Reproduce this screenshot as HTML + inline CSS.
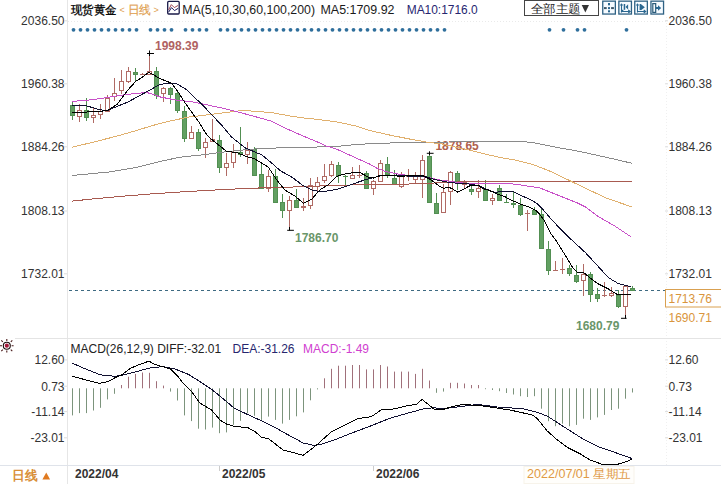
<!DOCTYPE html>
<html><head><meta charset="utf-8"><style>
html,body{margin:0;padding:0;background:#fff;}
body{width:721px;height:484px;overflow:hidden;position:relative;font-family:"Liberation Sans",sans-serif;}
svg{position:absolute;left:0;top:0;}
text{font-family:"Liberation Sans",sans-serif;}
</style></head><body>
<svg width="721" height="484" viewBox="0 0 721 484">
<rect x="0" y="0" width="721" height="484" fill="#fff"/>

<line x1="67.5" y1="0" x2="67.5" y2="484" stroke="#e6e6e6" stroke-width="1"/>
<line x1="666.5" y1="17" x2="666.5" y2="466" stroke="#f0f0f0" stroke-width="1" stroke-dasharray="1,2"/>
<line x1="15" y1="338.5" x2="721" y2="338.5" stroke="#e4e4e4" stroke-width="1"/>
<line x1="0" y1="465.5" x2="721" y2="465.5" stroke="#dfe3ea" stroke-width="1"/>
<line x1="68" y1="21.5" x2="666" y2="21.5" stroke="#eaeaea" stroke-width="1" stroke-dasharray="1,2"/>
<circle cx="73.5" cy="29.8" r="1.9" fill="#2f6f9c"/>
<circle cx="80.5" cy="29.8" r="1.9" fill="#2f6f9c"/>
<circle cx="87.5" cy="29.8" r="1.9" fill="#2f6f9c"/>
<circle cx="94.5" cy="29.8" r="1.9" fill="#2f6f9c"/>
<circle cx="101.5" cy="29.8" r="1.9" fill="#2f6f9c"/>
<circle cx="108.5" cy="29.8" r="1.9" fill="#2f6f9c"/>
<circle cx="115.5" cy="29.8" r="1.9" fill="#2f6f9c"/>
<circle cx="122.5" cy="29.8" r="1.9" fill="#2f6f9c"/>
<circle cx="129.5" cy="29.8" r="1.9" fill="#2f6f9c"/>
<circle cx="136.5" cy="29.8" r="1.9" fill="#2f6f9c"/>
<circle cx="150.5" cy="29.8" r="1.9" fill="#2f6f9c"/>
<circle cx="157.5" cy="29.8" r="1.9" fill="#2f6f9c"/>
<circle cx="164.5" cy="29.8" r="1.9" fill="#2f6f9c"/>
<circle cx="171.5" cy="29.8" r="1.9" fill="#2f6f9c"/>
<circle cx="185.5" cy="29.8" r="1.9" fill="#2f6f9c"/>
<circle cx="192.5" cy="29.8" r="1.9" fill="#2f6f9c"/>
<circle cx="199.5" cy="29.8" r="1.9" fill="#2f6f9c"/>
<circle cx="206.5" cy="29.8" r="1.9" fill="#2f6f9c"/>
<circle cx="220.5" cy="29.8" r="1.9" fill="#2f6f9c"/>
<circle cx="227.5" cy="29.8" r="1.9" fill="#2f6f9c"/>
<circle cx="234.5" cy="29.8" r="1.9" fill="#2f6f9c"/>
<circle cx="241.5" cy="29.8" r="1.9" fill="#2f6f9c"/>
<circle cx="248.5" cy="29.8" r="1.9" fill="#2f6f9c"/>
<circle cx="255.5" cy="29.8" r="1.9" fill="#2f6f9c"/>
<circle cx="262.5" cy="29.8" r="1.9" fill="#2f6f9c"/>
<circle cx="269.5" cy="29.8" r="1.9" fill="#2f6f9c"/>
<circle cx="276.5" cy="29.8" r="1.9" fill="#2f6f9c"/>
<circle cx="283.5" cy="29.8" r="1.9" fill="#2f6f9c"/>
<circle cx="290.5" cy="29.8" r="1.9" fill="#2f6f9c"/>
<circle cx="297.5" cy="29.8" r="1.9" fill="#2f6f9c"/>
<circle cx="304.5" cy="29.8" r="1.9" fill="#2f6f9c"/>
<circle cx="311.5" cy="29.8" r="1.9" fill="#2f6f9c"/>
<circle cx="318.5" cy="29.8" r="1.9" fill="#2f6f9c"/>
<circle cx="325.5" cy="29.8" r="1.9" fill="#2f6f9c"/>
<circle cx="332.5" cy="29.8" r="1.9" fill="#2f6f9c"/>
<circle cx="339.5" cy="29.8" r="1.9" fill="#2f6f9c"/>
<circle cx="346.5" cy="29.8" r="1.9" fill="#2f6f9c"/>
<circle cx="353.5" cy="29.8" r="1.9" fill="#2f6f9c"/>
<circle cx="360.5" cy="29.8" r="1.9" fill="#2f6f9c"/>
<circle cx="367.5" cy="29.8" r="1.9" fill="#2f6f9c"/>
<circle cx="374.5" cy="29.8" r="1.9" fill="#2f6f9c"/>
<circle cx="381.5" cy="29.8" r="1.9" fill="#2f6f9c"/>
<circle cx="388.5" cy="29.8" r="1.9" fill="#2f6f9c"/>
<circle cx="395.5" cy="29.8" r="1.9" fill="#2f6f9c"/>
<circle cx="402.5" cy="29.8" r="1.9" fill="#2f6f9c"/>
<circle cx="409.5" cy="29.8" r="1.9" fill="#2f6f9c"/>
<circle cx="416.5" cy="29.8" r="1.9" fill="#2f6f9c"/>
<circle cx="423.5" cy="29.8" r="1.9" fill="#2f6f9c"/>
<circle cx="430.5" cy="29.8" r="1.9" fill="#2f6f9c"/>
<circle cx="437.5" cy="29.8" r="1.9" fill="#2f6f9c"/>
<circle cx="444.5" cy="29.8" r="1.9" fill="#2f6f9c"/>
<circle cx="549.5" cy="29.8" r="1.9" fill="#2f6f9c"/>
<circle cx="563.5" cy="29.8" r="1.9" fill="#2f6f9c"/>
<circle cx="577.5" cy="29.8" r="1.9" fill="#2f6f9c"/>
<circle cx="584.5" cy="29.8" r="1.9" fill="#2f6f9c"/>
<circle cx="626.5" cy="29.8" r="1.9" fill="#2f6f9c"/>
<line x1="69" y1="290.5" x2="665" y2="290.5" stroke="#3e6a82" stroke-width="1" stroke-dasharray="3,3"/>
<g shape-rendering="crispEdges">
<line x1="72.5" y1="102" x2="72.5" y2="120" stroke="#528f52" stroke-width="1"/>
<rect x="70.5" y="105.5" width="4" height="10" fill="#62a062" stroke="#528f52" stroke-width="1"/>
<line x1="79.5" y1="104" x2="79.5" y2="110" stroke="#b06a64" stroke-width="1"/>
<line x1="79.5" y1="116" x2="79.5" y2="122" stroke="#b06a64" stroke-width="1"/>
<rect x="77.5" y="110.5" width="4" height="6" fill="#fff" stroke="#b06a64" stroke-width="1"/>
<line x1="86.5" y1="98" x2="86.5" y2="121" stroke="#528f52" stroke-width="1"/>
<rect x="84.5" y="110.5" width="4" height="7" fill="#62a062" stroke="#528f52" stroke-width="1"/>
<line x1="93.5" y1="108" x2="93.5" y2="115" stroke="#b06a64" stroke-width="1"/>
<line x1="93.5" y1="117" x2="93.5" y2="123" stroke="#b06a64" stroke-width="1"/>
<rect x="91.5" y="115.5" width="4" height="2" fill="#fff" stroke="#b06a64" stroke-width="1"/>
<line x1="100.5" y1="104" x2="100.5" y2="111" stroke="#b06a64" stroke-width="1"/>
<line x1="100.5" y1="114" x2="100.5" y2="119" stroke="#b06a64" stroke-width="1"/>
<rect x="98.5" y="111.5" width="4" height="3" fill="#fff" stroke="#b06a64" stroke-width="1"/>
<line x1="107.5" y1="95" x2="107.5" y2="98" stroke="#b06a64" stroke-width="1"/>
<line x1="107.5" y1="111" x2="107.5" y2="112" stroke="#b06a64" stroke-width="1"/>
<rect x="105.5" y="98.5" width="4" height="13" fill="#fff" stroke="#b06a64" stroke-width="1"/>
<line x1="114.5" y1="78" x2="114.5" y2="93" stroke="#b06a64" stroke-width="1"/>
<line x1="114.5" y1="96" x2="114.5" y2="101" stroke="#b06a64" stroke-width="1"/>
<rect x="112.5" y="93.5" width="4" height="3" fill="#fff" stroke="#b06a64" stroke-width="1"/>
<line x1="121.5" y1="70" x2="121.5" y2="81" stroke="#b06a64" stroke-width="1"/>
<line x1="121.5" y1="90" x2="121.5" y2="94" stroke="#b06a64" stroke-width="1"/>
<rect x="119.5" y="81.5" width="4" height="9" fill="#fff" stroke="#b06a64" stroke-width="1"/>
<line x1="128.5" y1="67" x2="128.5" y2="71" stroke="#b06a64" stroke-width="1"/>
<line x1="128.5" y1="81" x2="128.5" y2="83" stroke="#b06a64" stroke-width="1"/>
<rect x="126.5" y="71.5" width="4" height="10" fill="#fff" stroke="#b06a64" stroke-width="1"/>
<line x1="135.5" y1="68" x2="135.5" y2="81" stroke="#528f52" stroke-width="1"/>
<rect x="133.5" y="72.5" width="4" height="2" fill="#62a062" stroke="#528f52" stroke-width="1"/>
<line x1="142.5" y1="73" x2="142.5" y2="75" stroke="#b06a64" stroke-width="1"/>
<line x1="140" y1="74.5" x2="145" y2="74.5" stroke="#b06a64" stroke-width="1"/>
<line x1="149.5" y1="52" x2="149.5" y2="71" stroke="#b06a64" stroke-width="1"/>
<line x1="149.5" y1="74" x2="149.5" y2="74" stroke="#b06a64" stroke-width="1"/>
<rect x="147.5" y="71.5" width="4" height="3" fill="#fff" stroke="#b06a64" stroke-width="1"/>
<line x1="156.5" y1="67" x2="156.5" y2="99" stroke="#528f52" stroke-width="1"/>
<rect x="154.5" y="71.5" width="4" height="24" fill="#62a062" stroke="#528f52" stroke-width="1"/>
<line x1="163.5" y1="87" x2="163.5" y2="88" stroke="#b06a64" stroke-width="1"/>
<line x1="163.5" y1="93" x2="163.5" y2="102" stroke="#b06a64" stroke-width="1"/>
<rect x="161.5" y="88.5" width="4" height="5" fill="#fff" stroke="#b06a64" stroke-width="1"/>
<line x1="170.5" y1="87" x2="170.5" y2="104" stroke="#528f52" stroke-width="1"/>
<rect x="168.5" y="88.5" width="4" height="6" fill="#62a062" stroke="#528f52" stroke-width="1"/>
<line x1="177.5" y1="90" x2="177.5" y2="113" stroke="#528f52" stroke-width="1"/>
<rect x="175.5" y="93.5" width="4" height="17" fill="#62a062" stroke="#528f52" stroke-width="1"/>
<line x1="184.5" y1="106" x2="184.5" y2="142" stroke="#528f52" stroke-width="1"/>
<rect x="182.5" y="111.5" width="4" height="27" fill="#62a062" stroke="#528f52" stroke-width="1"/>
<line x1="191.5" y1="126" x2="191.5" y2="132" stroke="#b06a64" stroke-width="1"/>
<line x1="191.5" y1="138" x2="191.5" y2="138" stroke="#b06a64" stroke-width="1"/>
<rect x="189.5" y="132.5" width="4" height="6" fill="#fff" stroke="#b06a64" stroke-width="1"/>
<line x1="198.5" y1="129" x2="198.5" y2="151" stroke="#528f52" stroke-width="1"/>
<rect x="196.5" y="132.5" width="4" height="16" fill="#62a062" stroke="#528f52" stroke-width="1"/>
<line x1="205.5" y1="138" x2="205.5" y2="142" stroke="#b06a64" stroke-width="1"/>
<line x1="205.5" y1="147" x2="205.5" y2="158" stroke="#b06a64" stroke-width="1"/>
<rect x="203.5" y="142.5" width="4" height="5" fill="#fff" stroke="#b06a64" stroke-width="1"/>
<line x1="212.5" y1="119" x2="212.5" y2="139" stroke="#b06a64" stroke-width="1"/>
<line x1="212.5" y1="141" x2="212.5" y2="142" stroke="#b06a64" stroke-width="1"/>
<rect x="210.5" y="139.5" width="4" height="2" fill="#fff" stroke="#b06a64" stroke-width="1"/>
<line x1="219.5" y1="135" x2="219.5" y2="173" stroke="#528f52" stroke-width="1"/>
<rect x="217.5" y="140.5" width="4" height="27" fill="#62a062" stroke="#528f52" stroke-width="1"/>
<line x1="226.5" y1="153" x2="226.5" y2="163" stroke="#b06a64" stroke-width="1"/>
<line x1="226.5" y1="167" x2="226.5" y2="176" stroke="#b06a64" stroke-width="1"/>
<rect x="224.5" y="163.5" width="4" height="4" fill="#fff" stroke="#b06a64" stroke-width="1"/>
<line x1="233.5" y1="144" x2="233.5" y2="152" stroke="#b06a64" stroke-width="1"/>
<line x1="233.5" y1="162" x2="233.5" y2="168" stroke="#b06a64" stroke-width="1"/>
<rect x="231.5" y="152.5" width="4" height="10" fill="#fff" stroke="#b06a64" stroke-width="1"/>
<line x1="240.5" y1="127" x2="240.5" y2="157" stroke="#528f52" stroke-width="1"/>
<rect x="238.5" y="152.5" width="4" height="2" fill="#62a062" stroke="#528f52" stroke-width="1"/>
<line x1="247.5" y1="142" x2="247.5" y2="150" stroke="#b06a64" stroke-width="1"/>
<line x1="247.5" y1="154" x2="247.5" y2="164" stroke="#b06a64" stroke-width="1"/>
<rect x="245.5" y="150.5" width="4" height="4" fill="#fff" stroke="#b06a64" stroke-width="1"/>
<line x1="254.5" y1="147" x2="254.5" y2="176" stroke="#528f52" stroke-width="1"/>
<rect x="252.5" y="149.5" width="4" height="26" fill="#62a062" stroke="#528f52" stroke-width="1"/>
<line x1="261.5" y1="164" x2="261.5" y2="188" stroke="#528f52" stroke-width="1"/>
<rect x="259.5" y="174.5" width="4" height="14" fill="#62a062" stroke="#528f52" stroke-width="1"/>
<line x1="268.5" y1="170" x2="268.5" y2="176" stroke="#b06a64" stroke-width="1"/>
<line x1="268.5" y1="188" x2="268.5" y2="192" stroke="#b06a64" stroke-width="1"/>
<rect x="266.5" y="176.5" width="4" height="12" fill="#fff" stroke="#b06a64" stroke-width="1"/>
<line x1="275.5" y1="169" x2="275.5" y2="202" stroke="#528f52" stroke-width="1"/>
<rect x="273.5" y="176.5" width="4" height="26" fill="#62a062" stroke="#528f52" stroke-width="1"/>
<line x1="282.5" y1="194" x2="282.5" y2="218" stroke="#528f52" stroke-width="1"/>
<rect x="280.5" y="202.5" width="4" height="8" fill="#62a062" stroke="#528f52" stroke-width="1"/>
<line x1="289.5" y1="196" x2="289.5" y2="200" stroke="#b06a64" stroke-width="1"/>
<line x1="289.5" y1="210" x2="289.5" y2="230" stroke="#b06a64" stroke-width="1"/>
<rect x="287.5" y="200.5" width="4" height="10" fill="#fff" stroke="#b06a64" stroke-width="1"/>
<line x1="296.5" y1="189" x2="296.5" y2="208" stroke="#528f52" stroke-width="1"/>
<rect x="294.5" y="200.5" width="4" height="7" fill="#62a062" stroke="#528f52" stroke-width="1"/>
<line x1="303.5" y1="198" x2="303.5" y2="206" stroke="#b06a64" stroke-width="1"/>
<line x1="303.5" y1="207" x2="303.5" y2="211" stroke="#b06a64" stroke-width="1"/>
<rect x="301.5" y="206.5" width="4" height="1" fill="#fff" stroke="#b06a64" stroke-width="1"/>
<line x1="310.5" y1="178" x2="310.5" y2="185" stroke="#b06a64" stroke-width="1"/>
<line x1="310.5" y1="205" x2="310.5" y2="209" stroke="#b06a64" stroke-width="1"/>
<rect x="308.5" y="185.5" width="4" height="20" fill="#fff" stroke="#b06a64" stroke-width="1"/>
<line x1="317.5" y1="177" x2="317.5" y2="182" stroke="#b06a64" stroke-width="1"/>
<line x1="317.5" y1="186" x2="317.5" y2="192" stroke="#b06a64" stroke-width="1"/>
<rect x="315.5" y="182.5" width="4" height="4" fill="#fff" stroke="#b06a64" stroke-width="1"/>
<line x1="324.5" y1="164" x2="324.5" y2="176" stroke="#b06a64" stroke-width="1"/>
<line x1="324.5" y1="180" x2="324.5" y2="183" stroke="#b06a64" stroke-width="1"/>
<rect x="322.5" y="176.5" width="4" height="4" fill="#fff" stroke="#b06a64" stroke-width="1"/>
<line x1="331.5" y1="161" x2="331.5" y2="164" stroke="#b06a64" stroke-width="1"/>
<line x1="331.5" y1="175" x2="331.5" y2="177" stroke="#b06a64" stroke-width="1"/>
<rect x="329.5" y="164.5" width="4" height="11" fill="#fff" stroke="#b06a64" stroke-width="1"/>
<line x1="338.5" y1="162" x2="338.5" y2="183" stroke="#528f52" stroke-width="1"/>
<rect x="336.5" y="165.5" width="4" height="10" fill="#62a062" stroke="#528f52" stroke-width="1"/>
<line x1="345.5" y1="175" x2="345.5" y2="185" stroke="#528f52" stroke-width="1"/>
<line x1="343" y1="176.5" x2="348" y2="176.5" stroke="#528f52" stroke-width="1"/>
<line x1="352.5" y1="167" x2="352.5" y2="175" stroke="#b06a64" stroke-width="1"/>
<line x1="352.5" y1="178" x2="352.5" y2="178" stroke="#b06a64" stroke-width="1"/>
<rect x="350.5" y="175.5" width="4" height="3" fill="#fff" stroke="#b06a64" stroke-width="1"/>
<line x1="359.5" y1="165" x2="359.5" y2="178" stroke="#b06a64" stroke-width="1"/>
<line x1="357" y1="175.5" x2="362" y2="175.5" stroke="#b06a64" stroke-width="1"/>
<line x1="366.5" y1="171" x2="366.5" y2="189" stroke="#528f52" stroke-width="1"/>
<rect x="364.5" y="173.5" width="4" height="15" fill="#62a062" stroke="#528f52" stroke-width="1"/>
<line x1="373.5" y1="180" x2="373.5" y2="181" stroke="#b06a64" stroke-width="1"/>
<line x1="373.5" y1="188" x2="373.5" y2="195" stroke="#b06a64" stroke-width="1"/>
<rect x="371.5" y="181.5" width="4" height="7" fill="#fff" stroke="#b06a64" stroke-width="1"/>
<line x1="380.5" y1="160" x2="380.5" y2="163" stroke="#b06a64" stroke-width="1"/>
<line x1="380.5" y1="181" x2="380.5" y2="182" stroke="#b06a64" stroke-width="1"/>
<rect x="378.5" y="163.5" width="4" height="18" fill="#fff" stroke="#b06a64" stroke-width="1"/>
<line x1="387.5" y1="157" x2="387.5" y2="178" stroke="#528f52" stroke-width="1"/>
<rect x="385.5" y="164.5" width="4" height="10" fill="#62a062" stroke="#528f52" stroke-width="1"/>
<line x1="394.5" y1="170" x2="394.5" y2="185" stroke="#528f52" stroke-width="1"/>
<rect x="392.5" y="178.5" width="4" height="6" fill="#62a062" stroke="#528f52" stroke-width="1"/>
<line x1="401.5" y1="172" x2="401.5" y2="175" stroke="#b06a64" stroke-width="1"/>
<line x1="401.5" y1="186" x2="401.5" y2="188" stroke="#b06a64" stroke-width="1"/>
<rect x="399.5" y="175.5" width="4" height="11" fill="#fff" stroke="#b06a64" stroke-width="1"/>
<line x1="408.5" y1="169" x2="408.5" y2="175" stroke="#b06a64" stroke-width="1"/>
<line x1="408.5" y1="176" x2="408.5" y2="181" stroke="#b06a64" stroke-width="1"/>
<rect x="406.5" y="175.5" width="4" height="1" fill="#fff" stroke="#b06a64" stroke-width="1"/>
<line x1="415.5" y1="172" x2="415.5" y2="175" stroke="#b06a64" stroke-width="1"/>
<line x1="415.5" y1="179" x2="415.5" y2="184" stroke="#b06a64" stroke-width="1"/>
<rect x="413.5" y="175.5" width="4" height="4" fill="#fff" stroke="#b06a64" stroke-width="1"/>
<line x1="422.5" y1="155" x2="422.5" y2="160" stroke="#b06a64" stroke-width="1"/>
<line x1="422.5" y1="179" x2="422.5" y2="198" stroke="#b06a64" stroke-width="1"/>
<rect x="420.5" y="160.5" width="4" height="19" fill="#fff" stroke="#b06a64" stroke-width="1"/>
<line x1="429.5" y1="153" x2="429.5" y2="203" stroke="#528f52" stroke-width="1"/>
<rect x="427.5" y="156.5" width="4" height="46" fill="#62a062" stroke="#528f52" stroke-width="1"/>
<line x1="436.5" y1="193" x2="436.5" y2="213" stroke="#528f52" stroke-width="1"/>
<rect x="434.5" y="203.5" width="4" height="10" fill="#62a062" stroke="#528f52" stroke-width="1"/>
<line x1="443.5" y1="184" x2="443.5" y2="192" stroke="#b06a64" stroke-width="1"/>
<line x1="443.5" y1="212" x2="443.5" y2="213" stroke="#b06a64" stroke-width="1"/>
<rect x="441.5" y="192.5" width="4" height="20" fill="#fff" stroke="#b06a64" stroke-width="1"/>
<line x1="450.5" y1="171" x2="450.5" y2="172" stroke="#b06a64" stroke-width="1"/>
<line x1="450.5" y1="191" x2="450.5" y2="205" stroke="#b06a64" stroke-width="1"/>
<rect x="448.5" y="172.5" width="4" height="19" fill="#fff" stroke="#b06a64" stroke-width="1"/>
<line x1="457.5" y1="171" x2="457.5" y2="190" stroke="#528f52" stroke-width="1"/>
<rect x="455.5" y="173.5" width="4" height="8" fill="#62a062" stroke="#528f52" stroke-width="1"/>
<line x1="464.5" y1="180" x2="464.5" y2="182" stroke="#b06a64" stroke-width="1"/>
<line x1="464.5" y1="184" x2="464.5" y2="189" stroke="#b06a64" stroke-width="1"/>
<rect x="462.5" y="182.5" width="4" height="2" fill="#fff" stroke="#b06a64" stroke-width="1"/>
<line x1="471.5" y1="186" x2="471.5" y2="195" stroke="#528f52" stroke-width="1"/>
<rect x="469.5" y="189.5" width="4" height="2" fill="#62a062" stroke="#528f52" stroke-width="1"/>
<line x1="478.5" y1="180" x2="478.5" y2="188" stroke="#b06a64" stroke-width="1"/>
<line x1="478.5" y1="191" x2="478.5" y2="198" stroke="#b06a64" stroke-width="1"/>
<rect x="476.5" y="188.5" width="4" height="3" fill="#fff" stroke="#b06a64" stroke-width="1"/>
<line x1="485.5" y1="180" x2="485.5" y2="201" stroke="#528f52" stroke-width="1"/>
<rect x="483.5" y="189.5" width="4" height="11" fill="#62a062" stroke="#528f52" stroke-width="1"/>
<line x1="492.5" y1="194" x2="492.5" y2="198" stroke="#b06a64" stroke-width="1"/>
<line x1="492.5" y1="200" x2="492.5" y2="205" stroke="#b06a64" stroke-width="1"/>
<rect x="490.5" y="198.5" width="4" height="2" fill="#fff" stroke="#b06a64" stroke-width="1"/>
<line x1="499.5" y1="185" x2="499.5" y2="201" stroke="#528f52" stroke-width="1"/>
<rect x="497.5" y="188.5" width="4" height="12" fill="#62a062" stroke="#528f52" stroke-width="1"/>
<line x1="506.5" y1="194" x2="506.5" y2="202" stroke="#528f52" stroke-width="1"/>
<line x1="504" y1="202.5" x2="509" y2="202.5" stroke="#528f52" stroke-width="1"/>
<line x1="513.5" y1="191" x2="513.5" y2="208" stroke="#528f52" stroke-width="1"/>
<rect x="511.5" y="203.5" width="4" height="1" fill="#62a062" stroke="#528f52" stroke-width="1"/>
<line x1="520.5" y1="198" x2="520.5" y2="216" stroke="#528f52" stroke-width="1"/>
<rect x="518.5" y="205.5" width="4" height="9" fill="#62a062" stroke="#528f52" stroke-width="1"/>
<line x1="527.5" y1="210" x2="527.5" y2="231" stroke="#b06a64" stroke-width="1"/>
<line x1="525" y1="213.5" x2="530" y2="213.5" stroke="#b06a64" stroke-width="1"/>
<line x1="534.5" y1="207" x2="534.5" y2="215" stroke="#528f52" stroke-width="1"/>
<rect x="532.5" y="210.5" width="4" height="4" fill="#62a062" stroke="#528f52" stroke-width="1"/>
<line x1="541.5" y1="207" x2="541.5" y2="249" stroke="#528f52" stroke-width="1"/>
<rect x="539.5" y="214.5" width="4" height="34" fill="#62a062" stroke="#528f52" stroke-width="1"/>
<line x1="548.5" y1="241" x2="548.5" y2="275" stroke="#528f52" stroke-width="1"/>
<rect x="546.5" y="249.5" width="4" height="21" fill="#62a062" stroke="#528f52" stroke-width="1"/>
<line x1="555.5" y1="261" x2="555.5" y2="271" stroke="#b06a64" stroke-width="1"/>
<line x1="553" y1="270.5" x2="558" y2="270.5" stroke="#b06a64" stroke-width="1"/>
<line x1="562.5" y1="258" x2="562.5" y2="274" stroke="#b06a64" stroke-width="1"/>
<line x1="560" y1="269.5" x2="565" y2="269.5" stroke="#b06a64" stroke-width="1"/>
<line x1="569.5" y1="265" x2="569.5" y2="276" stroke="#528f52" stroke-width="1"/>
<rect x="567.5" y="268.5" width="4" height="5" fill="#62a062" stroke="#528f52" stroke-width="1"/>
<line x1="576.5" y1="265" x2="576.5" y2="283" stroke="#528f52" stroke-width="1"/>
<rect x="574.5" y="275.5" width="4" height="6" fill="#62a062" stroke="#528f52" stroke-width="1"/>
<line x1="583.5" y1="264" x2="583.5" y2="274" stroke="#b06a64" stroke-width="1"/>
<line x1="583.5" y1="280" x2="583.5" y2="296" stroke="#b06a64" stroke-width="1"/>
<rect x="581.5" y="274.5" width="4" height="6" fill="#fff" stroke="#b06a64" stroke-width="1"/>
<line x1="590.5" y1="272" x2="590.5" y2="302" stroke="#528f52" stroke-width="1"/>
<rect x="588.5" y="274.5" width="4" height="20" fill="#62a062" stroke="#528f52" stroke-width="1"/>
<line x1="597.5" y1="288" x2="597.5" y2="302" stroke="#528f52" stroke-width="1"/>
<rect x="595.5" y="294.5" width="4" height="4" fill="#62a062" stroke="#528f52" stroke-width="1"/>
<line x1="604.5" y1="282" x2="604.5" y2="297" stroke="#b06a64" stroke-width="1"/>
<line x1="602" y1="295.5" x2="607" y2="295.5" stroke="#b06a64" stroke-width="1"/>
<line x1="611.5" y1="287" x2="611.5" y2="293" stroke="#b06a64" stroke-width="1"/>
<line x1="611.5" y1="295" x2="611.5" y2="297" stroke="#b06a64" stroke-width="1"/>
<rect x="609.5" y="293.5" width="4" height="2" fill="#fff" stroke="#b06a64" stroke-width="1"/>
<line x1="618.5" y1="290" x2="618.5" y2="308" stroke="#528f52" stroke-width="1"/>
<rect x="616.5" y="295.5" width="4" height="11" fill="#62a062" stroke="#528f52" stroke-width="1"/>
<line x1="625.5" y1="285" x2="625.5" y2="286" stroke="#b06a64" stroke-width="1"/>
<line x1="625.5" y1="306" x2="625.5" y2="318" stroke="#b06a64" stroke-width="1"/>
<rect x="623.5" y="286.5" width="4" height="20" fill="#fff" stroke="#b06a64" stroke-width="1"/>
<line x1="632.5" y1="286" x2="632.5" y2="291" stroke="#528f52" stroke-width="1"/>
<rect x="630.5" y="288.5" width="4" height="2" fill="#62a062" stroke="#528f52" stroke-width="1"/>
</g>
<text x="435.4" y="149.7" font-size="12" font-weight="bold" fill="#b0604c">1878.65</text>
<polyline points="72.0,201.1 94.0,198.8 121.5,196.3 149.0,194.1 177.0,192.2 205.0,190.5 232.5,189.1 266.0,187.7 301.0,186.8 336.0,185.3 359.0,184.8 416.0,183.9 450.0,182.2 490.0,181.2 560.0,181.0 632.0,181.8" fill="none" stroke="#a85a50" stroke-width="1" shape-rendering="crispEdges"/>
<polyline points="72.0,175.5 110.0,171.9 135.0,167.7 163.0,160.8 180.0,157.2 191.0,156.0 206.0,154.5 219.0,152.5 246.5,149.6 266.0,148.3 300.0,147.3 334.0,146.7 357.0,144.4 379.0,143.3 401.0,142.7 423.0,142.2 450.0,142.0 486.5,141.2 515.0,141.3 525.0,141.8 535.0,143.0 545.0,145.0 558.0,147.6 580.0,151.5 597.0,155.3 615.0,159.3 632.0,163.3" fill="none" stroke="#8a8a8a" stroke-width="1" shape-rendering="crispEdges"/>
<polyline points="72.0,147.3 97.0,141.2 111.5,137.5 128.0,133.0 156.9,124.3 165.0,122.2 188.7,117.0 206.5,115.0 222.0,113.0 238.8,110.9 250.0,110.9 260.0,111.7 271.0,112.5 282.0,114.5 293.0,116.5 304.0,118.0 315.5,119.2 326.6,120.5 340.0,122.5 356.6,126.2 367.7,130.0 389.9,135.1 412.0,139.5 427.6,142.2 441.0,143.8 471.0,150.5 486.5,154.4 502.0,157.8 517.5,160.5 533.0,164.6 548.5,170.5 568.0,179.8 587.4,189.2 606.8,198.2 632.0,207.0" fill="none" stroke="#e0b06e" stroke-width="1" shape-rendering="crispEdges"/>
<polyline points="72.0,101.3 86.0,100.5 106.0,97.7 118.7,95.5 135.8,93.5 146.6,92.4 152.8,94.3 160.0,96.9 175.5,100.0 191.0,101.6 206.5,104.7 222.0,108.1 237.5,111.9 250.0,115.2 260.0,118.0 271.0,121.1 282.0,126.7 293.0,131.6 304.4,136.6 315.5,141.1 326.6,146.1 336.0,148.9 347.0,153.9 358.0,158.9 369.3,163.9 377.0,168.3 386.0,171.6 397.0,173.9 408.0,175.5 427.5,177.3 440.0,180.0 463.0,183.0 490.0,183.3 505.0,183.4 517.0,184.3 530.0,186.5 539.0,187.6 558.3,195.3 577.7,203.1 585.4,207.0 598.0,216.5 614.4,225.8 631.0,236.8" fill="none" stroke="#c850c8" stroke-width="1" shape-rendering="crispEdges"/>
<polyline points="72.0,105.9 87.0,105.9 97.0,109.0 106.3,111.0 112.5,108.3 128.0,102.0 143.5,93.5 152.8,88.4 160.0,84.5 167.8,83.3 177.0,84.0 186.4,89.5 194.1,97.2 201.9,104.2 211.2,114.3 222.0,125.5 231.0,136.5 245.0,147.8 262.0,155.0 270.3,161.8 280.7,171.0 291.0,176.5 303.4,185.8 311.7,189.9 322.0,192.0 338.5,188.9 350.0,185.0 365.5,179.6 381.0,175.7 396.5,175.0 412.0,176.5 424.4,176.2 435.3,179.6 450.0,182.7 467.5,183.8 480.0,185.9 487.4,189.6 494.9,192.4 504.8,191.1 513.5,191.7 519.7,194.9 529.6,199.2 537.1,203.5 542.0,208.3 549.5,217.2 556.5,224.8 571.0,239.3 585.5,252.7 597.9,266.1 608.2,277.5 618.5,283.7 626.8,285.7 631.0,286.8" fill="none" stroke="#101030" stroke-width="1" shape-rendering="crispEdges"/>
<polyline points="72.0,112.6 84.6,112.1 100.1,111.4 107.6,110.3 117.2,104.4 120.8,99.5 127.4,90.5 135.7,81.4 142.3,77.2 148.9,72.3 153.0,74.5 160.0,78.6 171.6,83.3 178.6,92.6 183.3,100.3 191.0,111.2 198.8,122.0 206.5,134.4 210.9,138.8 226.4,151.2 237.2,152.7 246.5,156.6 254.3,158.6 265.1,165.1 268.3,167.2 276.5,179.6 284.8,189.9 295.1,196.1 303.4,203.3 311.7,199.2 319.9,189.9 328.2,184.8 336.4,176.5 346.8,173.4 359.3,172.2 368.6,177.3 373.3,178.1 381.0,175.0 388.8,175.3 399.6,176.2 415.1,175.7 422.9,175.7 430.6,179.6 440.0,186.7 443.3,188.3 449.2,187.5 452.5,188.8 457.5,192.1 463.3,189.2 470.0,185.8 478.3,185.4 483.3,188.8 487.4,189.6 497.4,194.2 504.8,196.7 513.5,201.1 522.2,204.8 529.6,207.3 535.8,210.4 539.6,214.1 544.5,220.9 550.7,233.3 556.5,241.3 566.9,257.9 573.1,268.2 577.2,272.3 583.4,272.3 589.6,277.5 597.9,283.7 608.2,288.8 616.4,294.0 622.6,295.0 630.9,294.0" fill="none" stroke="#000" stroke-width="1" shape-rendering="crispEdges"/>
<path d="M149.5 50.5 V56 M147 53.5 H154" stroke="#000" stroke-width="1" fill="none"/>
<path d="M289.5 227 V230.5 M287.2 230.3 H293.9" stroke="#000" stroke-width="1" fill="none"/>
<path d="M429.5 151.3 V155 M426.8 153.3 H433.6" stroke="#000" stroke-width="1" fill="none"/>
<path d="M625.5 315 V318.5 M621 318.3 H626.6" stroke="#000" stroke-width="1" fill="none"/>
<text x="155" y="49.7" font-size="12" font-weight="bold" fill="#b06262">1998.39</text>
<text x="295" y="242" font-size="12" font-weight="bold" fill="#6a966a">1786.70</text>
<text x="576" y="330" font-size="12" font-weight="bold" fill="#6a966a">1680.79</text>
<text x="64.5" y="25.1" font-size="12" text-anchor="end" fill="#333">2036.50</text>
<text x="668.5" y="25.1" font-size="12" fill="#333">2036.50</text>
<line x1="64" y1="20.8" x2="67" y2="20.8" stroke="#ddd"/>
<line x1="665" y1="20.8" x2="668" y2="20.8" stroke="#ddd"/>
<text x="64.5" y="88.1" font-size="12" text-anchor="end" fill="#333">1960.38</text>
<text x="668.5" y="88.1" font-size="12" fill="#333">1960.38</text>
<line x1="64" y1="83.8" x2="67" y2="83.8" stroke="#ddd"/>
<line x1="665" y1="83.8" x2="668" y2="83.8" stroke="#ddd"/>
<text x="64.5" y="151.1" font-size="12" text-anchor="end" fill="#333">1884.26</text>
<text x="668.5" y="151.1" font-size="12" fill="#333">1884.26</text>
<line x1="64" y1="146.8" x2="67" y2="146.8" stroke="#ddd"/>
<line x1="665" y1="146.8" x2="668" y2="146.8" stroke="#ddd"/>
<text x="64.5" y="215.3" font-size="12" text-anchor="end" fill="#333">1808.13</text>
<text x="668.5" y="215.3" font-size="12" fill="#333">1808.13</text>
<line x1="64" y1="211.0" x2="67" y2="211.0" stroke="#ddd"/>
<line x1="665" y1="211.0" x2="668" y2="211.0" stroke="#ddd"/>
<text x="64.5" y="278.1" font-size="12" text-anchor="end" fill="#333">1732.01</text>
<text x="668.5" y="278.1" font-size="12" fill="#333">1732.01</text>
<line x1="64" y1="273.8" x2="67" y2="273.8" stroke="#ddd"/>
<line x1="665" y1="273.8" x2="668" y2="273.8" stroke="#ddd"/>
<rect x="665.5" y="289.5" width="60" height="17.5" fill="#fff" stroke="#d9a050" stroke-width="1"/>
<text x="668.5" y="303.2" font-size="12" fill="#d9953c">1713.76</text>
<text x="668.5" y="321.6" font-size="12" fill="#d9953c">1690.71</text>
<text x="70.5" y="14" font-size="12" fill="#000" stroke="#000" stroke-width="0.3" textLength="46" lengthAdjust="spacingAndGlyphs">现货黄金</text>
<text x="119.5" y="13" font-size="9" fill="#e0a050">&lt;</text>
<text x="127.5" y="14" font-size="12" fill="#e0a050" stroke="#e0a050" stroke-width="0.2" textLength="23.5" lengthAdjust="spacingAndGlyphs">日线</text>
<text x="153.5" y="13" font-size="9" fill="#e0a050">&gt;</text>
<rect x="167.7" y="1.4" width="11.5" height="12.6" rx="1" fill="#fff" stroke="#1a1a48" stroke-width="1.3"/>
<path d="M168.6 10 L171.3 4.6 L174.3 7.6 L178.2 5.4" stroke="#a04a5a" stroke-width="1" fill="none"/>
<path d="M168.6 12.2 L171.5 7.6 L174.5 10.6 L178.2 8.3" stroke="#1a1a60" stroke-width="1" fill="none"/>
<text x="182.3" y="14" font-size="12" fill="#1a1a1a" textLength="132.7" lengthAdjust="spacingAndGlyphs">MA(5,10,30,60,100,200)</text>
<text x="320.5" y="14" font-size="12" fill="#1a1a1a" textLength="74" lengthAdjust="spacingAndGlyphs">MA5:1709.92</text>
<text x="406.7" y="14" font-size="12" fill="#262670" textLength="71" lengthAdjust="spacingAndGlyphs">MA10:1716.0</text>
<rect x="524.5" y="0.5" width="74" height="15" fill="#fff" stroke="#444" stroke-width="1"/>
<text x="530.5" y="13" font-size="12" fill="#222" textLength="50" lengthAdjust="spacingAndGlyphs">全部主题</text>
<path d="M581.7 5 H589 L585.35 12.5 Z" fill="#333"/>
<rect x="602.75" y="1.15" width="12.6" height="12.9" fill="#f6fbff" stroke="#2f6284" stroke-width="1.3"/>
<rect x="618.85" y="1.15" width="12.6" height="12.9" fill="#f6fbff" stroke="#2f6284" stroke-width="1.3"/>
<rect x="634.75" y="1.15" width="12.6" height="12.9" fill="#f6fbff" stroke="#2f6284" stroke-width="1.3"/>
<rect x="650.95" y="1.15" width="12.6" height="12.9" fill="#f6fbff" stroke="#2f6284" stroke-width="1.3"/>
<rect x="608" y="3" width="2" height="2.3" fill="#2a6790"/><rect x="608" y="7.1" width="2" height="2" fill="#2a6790"/><rect x="608" y="10.3" width="2" height="2" fill="#2a6790"/>
<rect x="604" y="7.1" width="2.7" height="2" fill="#3c5566"/><rect x="611.1" y="7.1" width="2.8" height="2" fill="#3c5566"/>
<path d="M621.5 4 V12.5 M621 11.5 H630 M623.3 10 L621 11.5 M628.2 10 L630.2 11.5 L628.2 13" stroke="#2a6790" stroke-width="1.1" fill="none"/>
<path d="M619.8 5.6 L621.5 3.3 L623.2 5.6 Z" fill="#2a6790"/>
<rect x="623.7" y="4" width="1.5" height="5.8" fill="#2a6790"/>
<path d="M625.5 6.9 L628.1 4.2 V9.6 Z" fill="#2a6790"/>
<path d="M637.5 4 V12.5 M637 11.5 H645.5 M643.7 10 L645.7 11.5 L643.7 13" stroke="#2a6790" stroke-width="1.1" fill="none"/>
<path d="M635.8 5.6 L637.5 3.3 L639.2 5.6 Z" fill="#2a6790"/>
<rect x="639.6" y="4" width="1.5" height="6.1" fill="#2a6790"/>
<path d="M641 4.3 V10.2 L644.9 7.3 Z" fill="#2a6790"/>
<rect x="652.8" y="3.6" width="2.9" height="8.8" fill="none" stroke="#2a5a78" stroke-width="1.2"/>
<rect x="655.6" y="7" width="3" height="2" fill="#2a6790"/>
<path d="M658 5.2 L661.2 8 L658 10.8 Z" fill="#2a6790"/>
<text x="70.5" y="353" font-size="12" fill="#222">MACD(26,12,9) DIFF:-32.01</text>
<text x="232.5" y="353" font-size="12" fill="#26266e">DEA:-31.26</text>
<text x="303" y="353" font-size="12" fill="#d040d0">MACD:-1.49</text>
<circle cx="6.8" cy="345.7" r="3.5" fill="#fff" stroke="#1a0a0a" stroke-width="1.1"/>
<circle cx="6.8" cy="345.7" r="2.1" fill="#a3183a"/>
<path d="M6.8 339 V341 M6.8 350.4 V352.4 M0 345.7 H2 M11.6 345.7 H13.6 M1.3 340.3 L2.8 341.8 M12.3 340.3 L10.8 341.8 M1.3 351.1 L2.8 349.6 M12.3 351.1 L10.8 349.6" stroke="#4a1a1a" stroke-width="1.1" fill="none"/>
<text x="64.5" y="364.2" font-size="12" text-anchor="end" fill="#333">12.60</text>
<text x="668.5" y="364.2" font-size="12" fill="#333">12.60</text>
<line x1="64" y1="359.9" x2="67" y2="359.9" stroke="#ddd"/>
<line x1="665" y1="359.9" x2="668" y2="359.9" stroke="#ddd"/>
<text x="64.5" y="390.5" font-size="12" text-anchor="end" fill="#333">0.73</text>
<text x="668.5" y="390.5" font-size="12" fill="#333">0.73</text>
<line x1="64" y1="386.2" x2="67" y2="386.2" stroke="#ddd"/>
<line x1="665" y1="386.2" x2="668" y2="386.2" stroke="#ddd"/>
<text x="64.5" y="415.9" font-size="12" text-anchor="end" fill="#333">-11.14</text>
<text x="668.5" y="415.9" font-size="12" fill="#333">-11.14</text>
<line x1="64" y1="411.6" x2="67" y2="411.6" stroke="#ddd"/>
<line x1="665" y1="411.6" x2="668" y2="411.6" stroke="#ddd"/>
<text x="64.5" y="442.1" font-size="12" text-anchor="end" fill="#333">-23.01</text>
<text x="668.5" y="442.1" font-size="12" fill="#333">-23.01</text>
<line x1="64" y1="437.8" x2="67" y2="437.8" stroke="#ddd"/>
<line x1="665" y1="437.8" x2="668" y2="437.8" stroke="#ddd"/>
<line x1="72.5" y1="388.3" x2="72.5" y2="415.4" stroke="#7c947c" stroke-width="1"/>
<line x1="79.5" y1="388.3" x2="79.5" y2="413.1" stroke="#7c947c" stroke-width="1"/>
<line x1="86.5" y1="388.3" x2="86.5" y2="413.1" stroke="#7c947c" stroke-width="1"/>
<line x1="93.5" y1="388.3" x2="93.5" y2="410.5" stroke="#7c947c" stroke-width="1"/>
<line x1="100.5" y1="388.3" x2="100.5" y2="407.8" stroke="#7c947c" stroke-width="1"/>
<line x1="107.5" y1="388.3" x2="107.5" y2="399.4" stroke="#7c947c" stroke-width="1"/>
<line x1="114.5" y1="388.3" x2="114.5" y2="393.8" stroke="#7c947c" stroke-width="1"/>
<line x1="121.5" y1="388.3" x2="121.5" y2="385" stroke="#a0707a" stroke-width="1"/>
<line x1="128.5" y1="388.3" x2="128.5" y2="376.7" stroke="#a0707a" stroke-width="1"/>
<line x1="135.5" y1="388.3" x2="135.5" y2="373.9" stroke="#a0707a" stroke-width="1"/>
<line x1="142.5" y1="388.3" x2="142.5" y2="372.5" stroke="#a0707a" stroke-width="1"/>
<line x1="149.5" y1="388.3" x2="149.5" y2="372.8" stroke="#a0707a" stroke-width="1"/>
<line x1="156.5" y1="388.3" x2="156.5" y2="381.2" stroke="#a0707a" stroke-width="1"/>
<line x1="163.5" y1="388.3" x2="163.5" y2="385.6" stroke="#a0707a" stroke-width="1"/>
<line x1="170.5" y1="388.3" x2="170.5" y2="391.6" stroke="#7c947c" stroke-width="1"/>
<line x1="177.5" y1="388.3" x2="177.5" y2="400.5" stroke="#7c947c" stroke-width="1"/>
<line x1="184.5" y1="388.3" x2="184.5" y2="415.4" stroke="#7c947c" stroke-width="1"/>
<line x1="191.5" y1="388.3" x2="191.5" y2="421.1" stroke="#7c947c" stroke-width="1"/>
<line x1="198.5" y1="388.3" x2="198.5" y2="428.7" stroke="#7c947c" stroke-width="1"/>
<line x1="205.5" y1="388.3" x2="205.5" y2="429.5" stroke="#7c947c" stroke-width="1"/>
<line x1="212.5" y1="388.3" x2="212.5" y2="427.6" stroke="#7c947c" stroke-width="1"/>
<line x1="219.5" y1="388.3" x2="219.5" y2="433.2" stroke="#7c947c" stroke-width="1"/>
<line x1="226.5" y1="388.3" x2="226.5" y2="432.4" stroke="#7c947c" stroke-width="1"/>
<line x1="233.5" y1="388.3" x2="233.5" y2="424.9" stroke="#7c947c" stroke-width="1"/>
<line x1="240.5" y1="388.3" x2="240.5" y2="420.8" stroke="#7c947c" stroke-width="1"/>
<line x1="247.5" y1="388.3" x2="247.5" y2="413.3" stroke="#7c947c" stroke-width="1"/>
<line x1="254.5" y1="388.3" x2="254.5" y2="415.8" stroke="#7c947c" stroke-width="1"/>
<line x1="261.5" y1="388.3" x2="261.5" y2="419.9" stroke="#7c947c" stroke-width="1"/>
<line x1="268.5" y1="388.3" x2="268.5" y2="416.6" stroke="#7c947c" stroke-width="1"/>
<line x1="275.5" y1="388.3" x2="275.5" y2="419.9" stroke="#7c947c" stroke-width="1"/>
<line x1="282.5" y1="388.3" x2="282.5" y2="423.6" stroke="#7c947c" stroke-width="1"/>
<line x1="289.5" y1="388.3" x2="289.5" y2="419.9" stroke="#7c947c" stroke-width="1"/>
<line x1="296.5" y1="388.3" x2="296.5" y2="416.3" stroke="#7c947c" stroke-width="1"/>
<line x1="303.5" y1="388.3" x2="303.5" y2="412.4" stroke="#7c947c" stroke-width="1"/>
<line x1="310.5" y1="388.3" x2="310.5" y2="400.3" stroke="#7c947c" stroke-width="1"/>
<line x1="317.5" y1="388.3" x2="317.5" y2="389.4" stroke="#7c947c" stroke-width="1"/>
<line x1="324.5" y1="388.3" x2="324.5" y2="378.3" stroke="#a0707a" stroke-width="1"/>
<line x1="331.5" y1="388.3" x2="331.5" y2="368.8" stroke="#a0707a" stroke-width="1"/>
<line x1="338.5" y1="388.3" x2="338.5" y2="365.7" stroke="#a0707a" stroke-width="1"/>
<line x1="345.5" y1="388.3" x2="345.5" y2="365.7" stroke="#a0707a" stroke-width="1"/>
<line x1="352.5" y1="388.3" x2="352.5" y2="365" stroke="#a0707a" stroke-width="1"/>
<line x1="359.5" y1="388.3" x2="359.5" y2="365" stroke="#a0707a" stroke-width="1"/>
<line x1="366.5" y1="388.3" x2="366.5" y2="369.4" stroke="#a0707a" stroke-width="1"/>
<line x1="373.5" y1="388.3" x2="373.5" y2="369.4" stroke="#a0707a" stroke-width="1"/>
<line x1="380.5" y1="388.3" x2="380.5" y2="365" stroke="#a0707a" stroke-width="1"/>
<line x1="387.5" y1="388.3" x2="387.5" y2="366.5" stroke="#a0707a" stroke-width="1"/>
<line x1="394.5" y1="388.3" x2="394.5" y2="371.6" stroke="#a0707a" stroke-width="1"/>
<line x1="401.5" y1="388.3" x2="401.5" y2="371.6" stroke="#a0707a" stroke-width="1"/>
<line x1="408.5" y1="388.3" x2="408.5" y2="371.6" stroke="#a0707a" stroke-width="1"/>
<line x1="415.5" y1="388.3" x2="415.5" y2="373.9" stroke="#a0707a" stroke-width="1"/>
<line x1="422.5" y1="388.3" x2="422.5" y2="368.8" stroke="#a0707a" stroke-width="1"/>
<line x1="429.5" y1="388.3" x2="429.5" y2="380.5" stroke="#a0707a" stroke-width="1"/>
<line x1="436.5" y1="388.3" x2="436.5" y2="392.8" stroke="#7c947c" stroke-width="1"/>
<line x1="443.5" y1="388.3" x2="443.5" y2="391.6" stroke="#7c947c" stroke-width="1"/>
<line x1="450.5" y1="388.3" x2="450.5" y2="382.8" stroke="#a0707a" stroke-width="1"/>
<line x1="457.5" y1="388.3" x2="457.5" y2="382.8" stroke="#a0707a" stroke-width="1"/>
<line x1="464.5" y1="388.3" x2="464.5" y2="383.5" stroke="#a0707a" stroke-width="1"/>
<line x1="471.5" y1="388.3" x2="471.5" y2="385" stroke="#a0707a" stroke-width="1"/>
<line x1="478.5" y1="388.3" x2="478.5" y2="385" stroke="#a0707a" stroke-width="1"/>
<line x1="485.5" y1="388.3" x2="485.5" y2="389.2" stroke="#7c947c" stroke-width="1"/>
<line x1="492.5" y1="388.3" x2="492.5" y2="390" stroke="#7c947c" stroke-width="1"/>
<line x1="499.5" y1="388.3" x2="499.5" y2="391.2" stroke="#7c947c" stroke-width="1"/>
<line x1="506.5" y1="388.3" x2="506.5" y2="393" stroke="#7c947c" stroke-width="1"/>
<line x1="513.5" y1="388.3" x2="513.5" y2="394.5" stroke="#7c947c" stroke-width="1"/>
<line x1="520.5" y1="388.3" x2="520.5" y2="396.2" stroke="#7c947c" stroke-width="1"/>
<line x1="527.5" y1="388.3" x2="527.5" y2="397" stroke="#7c947c" stroke-width="1"/>
<line x1="534.5" y1="388.3" x2="534.5" y2="396.2" stroke="#7c947c" stroke-width="1"/>
<line x1="541.5" y1="388.3" x2="541.5" y2="408.7" stroke="#7c947c" stroke-width="1"/>
<line x1="548.5" y1="388.3" x2="548.5" y2="421.2" stroke="#7c947c" stroke-width="1"/>
<line x1="555.5" y1="388.3" x2="555.5" y2="426.2" stroke="#7c947c" stroke-width="1"/>
<line x1="562.5" y1="388.3" x2="562.5" y2="423.7" stroke="#7c947c" stroke-width="1"/>
<line x1="569.5" y1="388.3" x2="569.5" y2="426.2" stroke="#7c947c" stroke-width="1"/>
<line x1="576.5" y1="388.3" x2="576.5" y2="424.9" stroke="#7c947c" stroke-width="1"/>
<line x1="583.5" y1="388.3" x2="583.5" y2="418.7" stroke="#7c947c" stroke-width="1"/>
<line x1="590.5" y1="388.3" x2="590.5" y2="419.9" stroke="#7c947c" stroke-width="1"/>
<line x1="597.5" y1="388.3" x2="597.5" y2="417.4" stroke="#7c947c" stroke-width="1"/>
<line x1="604.5" y1="388.3" x2="604.5" y2="414.9" stroke="#7c947c" stroke-width="1"/>
<line x1="611.5" y1="388.3" x2="611.5" y2="410" stroke="#7c947c" stroke-width="1"/>
<line x1="618.5" y1="388.3" x2="618.5" y2="408.7" stroke="#7c947c" stroke-width="1"/>
<line x1="625.5" y1="388.3" x2="625.5" y2="398.7" stroke="#7c947c" stroke-width="1"/>
<line x1="632.5" y1="388.3" x2="632.5" y2="392.5" stroke="#7c947c" stroke-width="1"/>
<polyline points="72.1,363.0 85.4,368.9 99.3,374.4 104.8,375.5 116.0,376.3 123.7,374.8 134.8,372.2 146.0,368.9 153.9,367.2 164.3,366.8 174.7,368.9 188.5,374.4 199.6,381.4 212.1,389.7 226.6,401.6 233.3,407.5 246.6,414.1 261.6,420.8 274.9,427.4 288.2,434.9 303.2,443.0 313.0,445.2 320.0,444.7 336.6,439.1 353.2,432.5 369.8,426.3 389.8,418.3 407.6,413.2 425.6,408.3 434.4,407.8 443.3,408.7 461.1,406.5 477.5,404.5 497.4,407.0 522.4,408.7 537.4,412.4 547.4,416.2 564.8,427.4 582.3,438.6 599.8,447.4 614.8,452.4 632.2,458.6" fill="none" stroke="#101030" stroke-width="1" shape-rendering="crispEdges"/>
<polyline points="72.1,376.1 86.0,380.0 99.3,383.3 108.2,381.6 116.0,377.2 121.5,375.0 130.4,368.3 137.0,365.5 146.0,362.2 149.0,361.2 153.9,364.0 164.3,367.2 170.5,368.9 177.4,375.8 181.6,381.4 191.3,391.1 199.6,402.8 211.6,410.0 220.0,420.0 226.6,424.1 235.0,426.6 247.4,427.4 255.0,431.6 261.6,437.4 268.2,438.6 283.3,450.0 303.3,455.3 316.6,445.0 331.6,431.6 343.2,425.8 358.2,418.6 371.5,416.6 381.0,410.0 394.3,408.9 407.6,405.6 416.5,404.3 422.1,399.4 434.4,409.4 443.3,409.4 452.2,406.5 463.3,404.3 485.0,406.2 510.0,410.0 532.4,415.0 537.4,418.7 547.4,431.2 557.4,440.0 567.3,447.4 579.8,453.6 590.0,460.0 601.6,464.1 618.3,464.1 626.6,461.6 631.6,459.1" fill="none" stroke="#000" stroke-width="1" shape-rendering="crispEdges"/>
<text x="12.3" y="480.3" font-size="13" font-weight="bold" fill="#d98f38" textLength="25.5" lengthAdjust="spacingAndGlyphs">日线</text>
<path d="M42.4 479.4 L46.25 472.4 L50.1 479.4 Z" fill="#e07a20"/>
<text x="75.0" y="478.3" font-size="12" font-weight="bold" fill="#333">2022/04</text>
<line x1="219.5" y1="466" x2="219.5" y2="471" stroke="#ccc"/>
<text x="222.0" y="478.3" font-size="12" font-weight="bold" fill="#333">2022/05</text>
<line x1="373.5" y1="466" x2="373.5" y2="471" stroke="#ccc"/>
<text x="376.0" y="478.3" font-size="12" font-weight="bold" fill="#333">2022/06</text>
<rect x="524" y="466.5" width="110" height="17" fill="#fffefb" stroke="#f7f3ea" stroke-width="1"/>
<text x="527" y="478.3" font-size="12" fill="#e09a45" textLength="104" lengthAdjust="spacingAndGlyphs">2022/07/01 星期五</text>
</svg></body></html>
